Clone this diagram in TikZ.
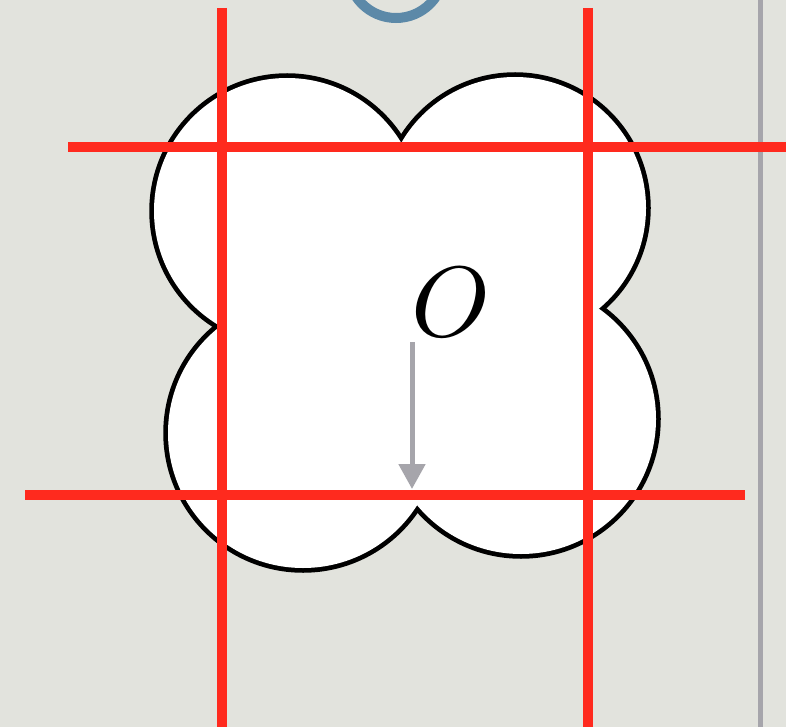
\documentclass[tikz,border=0pt]{standalone}
\usetikzlibrary{arrows.meta}
\definecolor{bgc}{RGB}{226,227,221}
\definecolor{redl}{RGB}{255,42,30}
\definecolor{grayl}{RGB}{166,165,171}
\definecolor{bluel}{RGB}{92,137,168}
\tikzset{
  redline/.style={redl, line width=10.5pt},
  lobeline/.style={black, line width=9.5pt},
  lobefill/.style={white},
  grayarrow/.style={grayl, line width=5pt, -{Triangle[width=26pt 0,length=25pt 0]}}
}
\begin{document}
\begin{tikzpicture}[x=1pt,y=-1pt]
\fill[bgc] (0,0) rectangle (786,727);
\useasboundingbox (0,0) rectangle (786,727);
\begin{scope}
  \clip (0,0) rectangle (786,727);
  \draw[bluel, line width=10pt] (396,-30) circle (48pt);
\end{scope}
\draw[grayl, line width=5pt] (760,0) -- (760,727);
% four lobes
\foreach \cx/\cy/\r in {287/211/133, 515/208/131, 303/433/135, 521/419/135}
  \draw[lobeline] (\cx,\cy) circle (\r pt);
\foreach \cx/\cy/\r in {287/211/133, 515/208/131, 303/433/135, 521/419/135}
  \fill[lobefill] (\cx,\cy) circle (\r pt);
\fill[lobefill] (287,211) -- (515,208) -- (521,419) -- (303,433) -- cycle;
% red lines
\coordinate (v1t) at (222,8);  \coordinate (v1b) at (222,727);
\coordinate (v2t) at (588,8);  \coordinate (v2b) at (588,727);
\coordinate (h1l) at (68,147); \coordinate (h1r) at (786,147);
\coordinate (h2l) at (25,495); \coordinate (h2r) at (745,495);
\draw[redline] (v1t) -- (v1b);
\draw[redline] (v2t) -- (v2b);
\draw[redline] (h1l) -- (h1r);
\draw[redline] (h2l) -- (h2r);
% label and arrow
\node[scale=10, inner sep=0pt] (O) at (451,302) {$O$};
\coordinate (as) at (412,342);
\coordinate (ae) at (412,489);
\draw[grayarrow] (as) -- (ae);
\end{tikzpicture}
\end{document}
